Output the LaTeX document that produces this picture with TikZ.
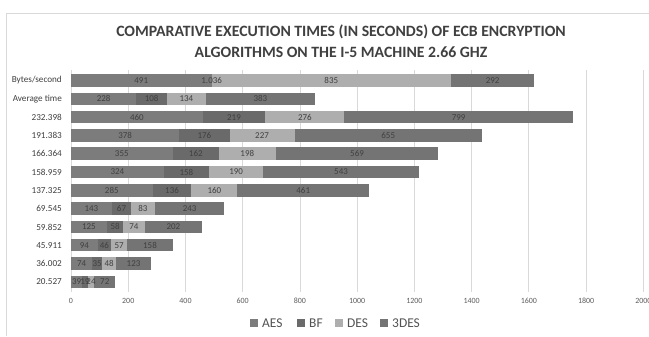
\documentclass[tikz,border=0pt]{standalone}
\usepackage{fontspec}
\setmainfont{Carlito}
\definecolor{aescol}{HTML}{7C7C7C}
\definecolor{bfcol}{HTML}{6A6A6A}
\definecolor{descol}{HTML}{AEAEAE}
\definecolor{tdescol}{HTML}{747474}
\definecolor{gridcol}{HTML}{D9D9D9}
\definecolor{txtcol}{HTML}{404040}
\tikzset{
  cat/.style={anchor=east, inner sep=0pt, font=\fontsize{9.2}{10}\selectfont, text=txtcol},
  val/.style={inner sep=0pt, font=\fontsize{9}{10}\selectfont, text=txtcol},
  tick/.style={inner sep=0pt, font=\fontsize{8}{9}\selectfont, text=txtcol!85},
  legtext/.style={anchor=west, inner sep=0pt, font=\fontsize{13.5}{15}\selectfont, text=txtcol!90},
  gridline/.style={draw=gridcol, line width=0.9bp},
}
% one stacked bar: #1 row, #2 category, #3..#6 AES, BF, DES, 3DES
\newcommand\stackrow[6]{%
  \pgfmathsetmacro\yc{80.5+18.3*#1}%
  \pgfmathsetmacro\xa{71}%
  \pgfmathsetmacro\xb{\xa+#3*0.2862}%
  \pgfmathsetmacro\xc{\xb+#4*0.2862}%
  \pgfmathsetmacro\xd{\xc+#5*0.2862}%
  \pgfmathsetmacro\xe{\xd+#6*0.2862}%
  \node[cat] (cat#1) at (62,\yc) {#2};
  \fill[aescol] (\xa,\yc-6.25) rectangle (\xb,\yc+6.25);
  \fill[bfcol] (\xb,\yc-6.25) rectangle (\xc,\yc+6.25);
  \fill[descol] (\xc,\yc-6.25) rectangle (\xd,\yc+6.25);
  \fill[tdescol] (\xd,\yc-6.25) rectangle (\xe,\yc+6.25);
  \node[val] (aes#1) at ({(\xa+\xb)/2},\yc) {#3};
  \node[val] (bf#1) at ({(\xb+\xc)/2},\yc) {#4};
  \node[val] (des#1) at ({(\xc+\xd)/2},\yc) {#5};
  \node[val] (tdes#1) at ({(\xd+\xe)/2},\yc) {#6};
}
\begin{document}
\begin{tikzpicture}[x=1bp, y=-1bp]
\useasboundingbox (0,0) rectangle (649,336);
\fill[white] (0,0) rectangle (649,336);
% chart frame
\draw[gridcol, line width=1bp] (6,336) -- (6,13.5) -- (649,13.5);
% title
\node[font=\bfseries\fontsize{15.8}{20.5}\selectfont, text=txtcol, align=center] (title) at (341,41)
  {COMPARATIVE EXECUTION TIMES (IN SECONDS) OF ECB ENCRYPTION\\ALGORITHMS ON THE I-5 MACHINE 2.66 GHZ};
% vertical grid and tick labels
\foreach \v in {0,200,...,2000} {
  \draw[gridline] ({71+\v*0.2862},70) -- ({71+\v*0.2862},292);
  \node[tick] (tick\v) at ({71+\v*0.2862},301) {\v};
}
% bars
\stackrow{0}{Bytes/second}{491}{1.036}{835}{292}
\stackrow{1}{Average time}{228}{108}{134}{383}
\stackrow{2}{232.398}{460}{219}{276}{799}
\stackrow{3}{191.383}{378}{176}{227}{655}
\stackrow{4}{166.364}{355}{162}{198}{569}
\stackrow{5}{158.959}{324}{158}{190}{543}
\stackrow{6}{137.325}{285}{136}{160}{461}
\stackrow{7}{69.545}{143}{67}{83}{243}
\stackrow{8}{59.852}{125}{58}{74}{202}
\stackrow{9}{45.911}{94}{46}{57}{158}
\stackrow{10}{36.002}{74}{35}{48}{123}
\stackrow{11}{20.527}{39}{19}{24}{72}
% legend
\fill[aescol] (250,319) rectangle (258,327);
\node[legtext] (legaes) at (262,323) {AES};
\fill[bfcol] (297,319) rectangle (305,327);
\node[legtext] (legbf) at (309,323) {BF};
\fill[descol] (335,319) rectangle (343,327);
\node[legtext] (legdes) at (347,323) {DES};
\fill[tdescol] (380,319) rectangle (388,327);
\node[legtext] (legtdes) at (392,323) {3DES};
\end{tikzpicture}
\end{document}
